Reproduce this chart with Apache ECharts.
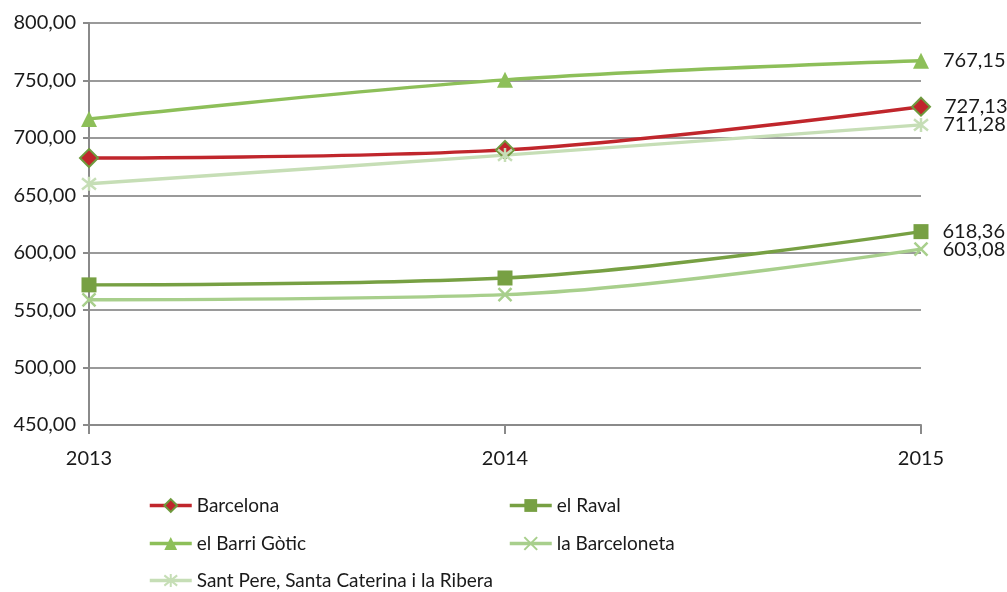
<!DOCTYPE html>
<html><head><meta charset="utf-8">
<script src="https://cdn.jsdelivr.net/npm/echarts@6/dist/echarts.min.js"></script>
<style>html,body{margin:0;padding:0;background:#fff}#c{width:1007px;height:592px}</style>
</head><body><div id="c"></div>
<script>
const years = ['2013', '2014', '2015'];
const barcelona = [682.4, 689.5, 727.13];
const elRaval = [572.0, 578.0, 618.36];
const barriGotic = [716.5, 750.5, 767.15];
const barceloneta = [559.0, 563.5, 603.08];
const santPere = [660.0, 685.0, 711.28];
const yTicks = {min: 450, max: 800, interval: 50};

const fmt = v => v.toFixed(2).replace('.', ',');
const FONT = 'Lato';
const TXT = '#1a1a1a';

function mk(name, values, color, symbol, size, itemStyle) {
  return {
    name, type: 'line', smooth: 0.35, data: values.map((v, i) => i === values.length - 1 ?
      {value: v, label: {show: true}} : v),
    symbol, symbolSize: size,
    lineStyle: {color, width: 3.4},
    itemStyle: Object.assign({color}, itemStyle || {}),
    label: {show: false, position: 'right', distance: 14, color: TXT, fontSize: 20, fontFamily: FONT,
      formatter: p => fmt(p.value)},
    emphasis: {disabled: true}, z: 3
  };
}
const xPath = 'path://M0,0L10,10M10,0L0,10';
const astPath = 'path://M0,1L10,9M10,1L0,9M5,0L5,10';

function lg(name, left, cy) {
  return {data: [name], left, top: cy - 11, padding: 0, itemWidth: 42, itemHeight: 16, itemGap: 0,
    lineStyle: {width: 3.5},
    textStyle: {fontSize: 19, color: TXT, fontFamily: FONT}};
}

const chart = echarts.init(document.getElementById('c'));
chart.setOption({
  animation: false,
  textStyle: {fontFamily: FONT},
  grid: {left: 89, right: 86, top: 23, bottom: 167, containLabel: false},
  xAxis: {
    type: 'category', data: years, boundaryGap: false,
    axisLine: {lineStyle: {color: '#8a8a8a', width: 2}},
    axisTick: {show: true, length: 9, lineStyle: {color: '#8a8a8a', width: 2}},
    axisLabel: {color: TXT, fontSize: 20, fontFamily: FONT, margin: 24},
    splitLine: {show: false}
  },
  yAxis: {
    type: 'value', min: yTicks.min, max: yTicks.max, interval: yTicks.interval,
    axisLine: {show: true, lineStyle: {color: '#8a8a8a', width: 2}},
    axisTick: {show: true, length: 6, lineStyle: {color: '#8a8a8a', width: 2}},
    axisLabel: {color: TXT, fontSize: 20, fontFamily: FONT, margin: 13, formatter: v => fmt(v)},
    splitLine: {lineStyle: {color: '#9a9a9a', width: 2}}
  },
  legend: [
    lg('Barcelona', 148, 507),
    lg('el Raval', 508, 507),
    lg('el Barri Gòtic', 148, 545),
    lg('la Barceloneta', 508, 545),
    lg('Sant Pere, Santa Caterina i la Ribera', 148, 582)
  ],
  series: [
    mk('Barcelona', barcelona, '#C0262C', 'diamond', 18, {borderColor: '#6E9A3E', borderWidth: 2}),
    mk('el Raval', elRaval, '#77A043', 'rect', 15),
    mk('el Barri Gòtic', barriGotic, '#8DBF59', 'triangle', 16),
    mk('la Barceloneta', barceloneta, '#A8CF8C', xPath, 13, {borderColor: '#A8CF8C', borderWidth: 2.5, color: 'rgba(0,0,0,0)'}),
    mk('Sant Pere, Santa Caterina i la Ribera', santPere, '#C6DEB6', astPath, 14, {borderColor: '#C6DEB6', borderWidth: 2.5, color: 'rgba(0,0,0,0)'})
  ]
});
</script></body></html>
